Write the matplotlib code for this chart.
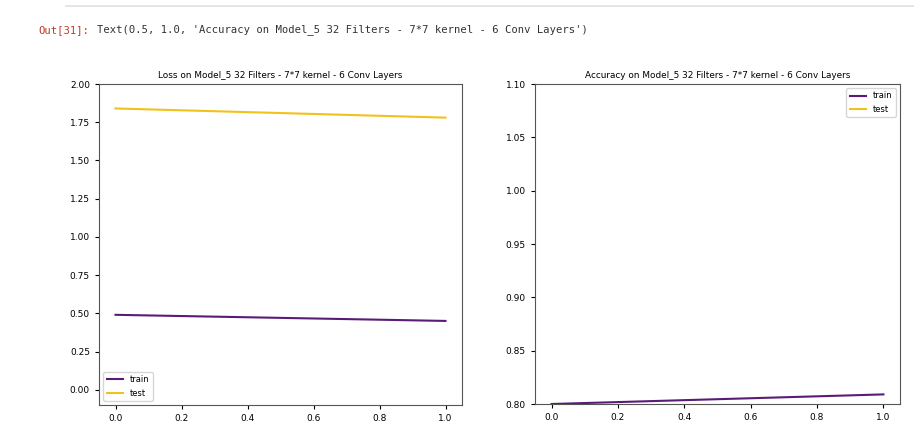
import matplotlib
matplotlib.use("Agg")
import matplotlib.pyplot as plt

# Dados do histórico de treino (2 épocas)
epochs = [0, 1]
loss_train = [0.49, 0.45]
loss_test = [1.84, 1.78]
acc_train = [0.800, 0.809]
acc_test = [0.36, 0.37]  # fica fora da faixa visível no gráfico original

loss_title = 'Loss on Model_5 32 Filters - 7*7 kernel - 6 Conv Layers'
acc_title = 'Accuracy on Model_5 32 Filters - 7*7 kernel - 6 Conv Layers'
out_text = "Text(0.5, 1.0, '" + acc_title + "')"

train_color = "#5a1a78"
test_color = "#f2c21c"
font = ['DejaVu Sans']

fig = plt.figure(figsize=(9.14, 4.43), dpi=100)

# Linha do notebook e texto da saída
fig.add_artist(plt.Line2D([66 / 914, 1.0], [1 - 6 / 443, 1 - 6 / 443], color="#e0e0e0", linewidth=1.2))
fig.text(38 / 914, 1 - 30 / 443, 'Out[31]:', family='DejaVu Sans Mono', fontsize=7.6, color="#c0392b", va='center')
fig.text(97 / 914, 1 - 30 / 443, out_text, family='DejaVu Sans Mono', fontsize=7.6, color="#333333", va='center')

ax1 = fig.add_axes([99 / 914, 1 - 405 / 443, 363 / 914, 321 / 443])
ax2 = fig.add_axes([535 / 914, 1 - 404 / 443, 365 / 914, 320 / 443])

ax1.plot(epochs, loss_train, color=train_color, linewidth=1.5, label='train')
ax1.plot(epochs, loss_test, color=test_color, linewidth=1.5, label='test')
ax1.set_ylim(-0.1, 2.0)
ax1.set_yticks([0.0, 0.25, 0.5, 0.75, 1.0, 1.25, 1.5, 1.75, 2.0])
ax1.set_title(loss_title, family=font, fontsize=6.4, pad=4)
ax1.legend(loc='lower left', prop={'family': font, 'size': 6})

ax2.plot(epochs, acc_train, color=train_color, linewidth=1.5, label='train')
ax2.plot(epochs, acc_test, color=test_color, linewidth=1.5, label='test')
ax2.set_ylim(0.8, 1.1)
ax2.set_yticks([0.8, 0.85, 0.9, 0.95, 1.0, 1.05, 1.1])
ax2.set_title(acc_title, family=font, fontsize=6.4, pad=4)
ax2.legend(loc='upper right', prop={'family': font, 'size': 6})

for ax in (ax1, ax2):
    ax.set_xticks([0.0, 0.2, 0.4, 0.6, 0.8, 1.0])
    ax.tick_params(labelsize=6.5, length=3)
    for s in ax.spines.values():
        s.set_color("#555555")

fig.savefig('out.png', dpi=100)
